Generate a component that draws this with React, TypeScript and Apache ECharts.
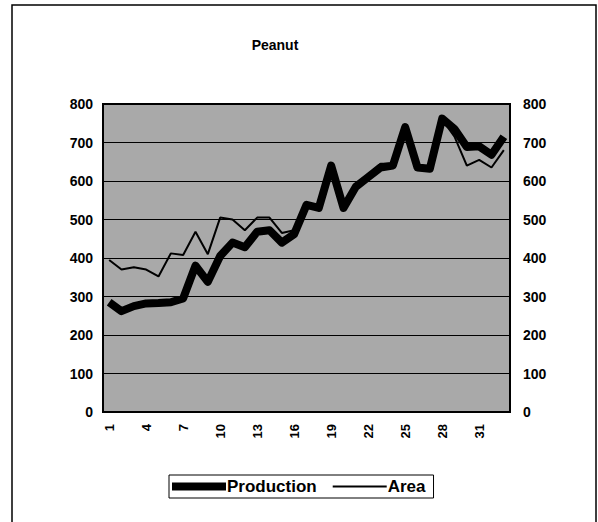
import React, { useEffect, useRef } from "react";
import * as echarts from "echarts";

const categories = Array.from({ length: 33 }, (_, i) => String(i + 1));
const production = [285, 262, 275, 282, 283, 285, 295, 380, 338, 405, 440, 428, 468, 472, 440, 462, 538, 530, 640, 530, 585, 610, 635, 640, 740, 635, 632, 762, 735, 688, 690, 668, 715];
const area = [395, 370, 376, 370, 352, 412, 408, 468, 410, 505, 500, 472, 505, 505, 465, 472, 540, 528, 640, 530, 590, 615, 645, 645, 735, 630, 630, 760, 715, 640, 655, 635, 680];
const yTicks = { min: 0, max: 800, interval: 100 };

const FONT = "Liberation Sans, Arial, sans-serif";

export default function App() {
  const ref = useRef<HTMLDivElement>(null);
  useEffect(() => {
    if (!ref.current) return;
    const chart = echarts.init(ref.current, undefined, { renderer: "svg" });
    const labelStyle = { color: "#000", fontFamily: FONT, fontWeight: "bold" as const, fontSize: 14 };
    chart.setOption({
      animation: false,
      backgroundColor: "#fff",
      title: {
        text: "Peanut",
        left: 270,
        top: 33,
        textAlign: "center",
        textStyle: { ...labelStyle, fontSize: 14 },
      },
      graphic: [
        {
          type: "rect",
          shape: { x: 12, y: 5, width: 584, height: 600 },
          style: { fill: "none", stroke: "#000", lineWidth: 1.5 },
          silent: true,
        },
      ],
      legend: {
        data: [
          { name: "Production", icon: "path://M0,0L54,0L54,8L0,8Z" },
          { name: "Area", icon: "path://M0,0L54,0L54,2L0,2Z" },
        ],
        left: 169,
        top: 475,
        itemWidth: 54,
        itemHeight: 10,
        itemGap: 16,
        padding: [3, 8, 3, 3],
        borderColor: "#000",
        borderWidth: 1,
        itemStyle: { borderWidth: 0 },
        textStyle: { ...labelStyle, fontSize: 17, padding: [0, 0, 0, -4] },
      },
      grid: {
        left: 103,
        right: 88,
        top: 104,
        bottom: 110,
        show: true,
        backgroundColor: "#a9a9a9",
        borderColor: "#000",
        borderWidth: 2,
      },
      xAxis: {
        type: "category",
        data: categories,
        boundaryGap: true,
        axisLine: { show: true, lineStyle: { color: "#000", width: 2 } },
        axisTick: { show: false },
        axisLabel: { ...labelStyle, fontSize: 13, interval: 2, rotate: 90, margin: 12 },
      },
      yAxis: [
        {
          type: "value",
          position: "left",
          ...yTicks,
          axisLine: { show: false },
          axisTick: { show: false },
          axisLabel: { ...labelStyle, margin: 10 },
          splitLine: { show: true, lineStyle: { color: "#000", width: 1 } },
        },
        {
          type: "value",
          position: "right",
          ...yTicks,
          axisLine: { show: false },
          axisTick: { show: false },
          axisLabel: { ...labelStyle, margin: 13 },
          splitLine: { show: false },
        },
      ],
      series: [
        {
          name: "Area",
          type: "line",
          yAxisIndex: 1,
          data: area,
          symbol: "none",
          lineStyle: { color: "#000", width: 2 },
          itemStyle: { color: "#000" },
          z: 2,
        },
        {
          name: "Production",
          type: "line",
          yAxisIndex: 0,
          data: production,
          symbol: "none",
          lineStyle: { color: "#000", width: 8, join: "round" },
          itemStyle: { color: "#000" },
          z: 3,
        },
      ],
    });
    return () => chart.dispose();
  }, []);
  return (
    <div
      ref={ref}
      style={{ position: "absolute", left: 0, top: 0, width: 598, height: 522 }}
    />
  );
}
